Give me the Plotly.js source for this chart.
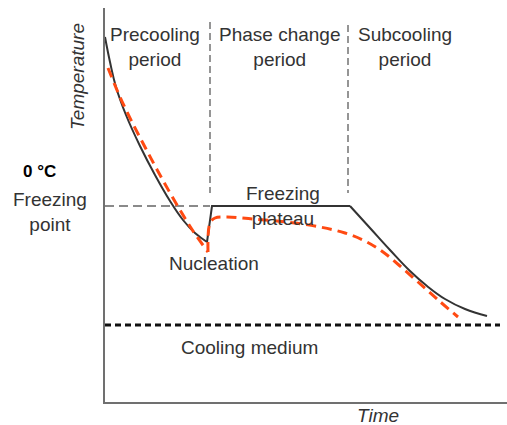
<!DOCTYPE html>
<html>
<head>
<meta charset="utf-8">
<script src="https://cdn.plot.ly/plotly-3.0.1.min.js"></script>
<style>html,body{margin:0;padding:0;background:#fff;}#chart{width:507px;height:425px;}</style>
</head>
<body>
<div id="chart"></div>
<script>
// Schematic freezing curve (time and temperature in arbitrary units)
const blackPreTime  = [0, 5, 11, 21, 35, 50, 65, 78, 90, 102];
const blackPreTemp  = [365, 340, 315, 287, 256, 227, 201, 182, 169, 160];
const blackMidTime  = [102, 107, 245];
const blackMidTemp  = [160, 196, 196];
const blackSubTime  = [245, 265, 285, 305, 322, 340, 360, 382];
const blackSubTemp  = [196, 174, 152, 131, 116, 103, 93, 86];

const redPreTime    = [3, 15, 28, 41, 55, 72, 88, 103];
const redPreTemp    = [334, 305, 278, 253, 227, 197, 171, 150];
const redPostTime   = [103, 105, 110, 122, 148, 182, 215, 240, 260, 278, 295, 313, 332, 353];
const redPostTemp   = [150, 179, 184, 185, 183, 180, 175, 169, 161, 150, 136, 120, 103, 85];

const coolingTime   = [0, 395];
const coolingTemp   = [77, 77];
const freezeTime    = [0, 105];
const freezeTemp    = [196, 196];
const periodBounds  = [105, 243];
const periodTop     = [380, 377];
const periodBottom  = 209;

const traces = [];
traces.push({x: freezeTime, y: freezeTemp, mode: 'lines', line: {color: '#8a8a8a', width: 1.8, dash: '9px,5px'}, hoverinfo: 'skip'});
periodBounds.forEach((b, i) => {
  traces.push({x: [b, b], y: [periodTop[i], periodBottom], mode: 'lines', line: {color: '#8a8a8a', width: 1.8, dash: '7px,4px'}, hoverinfo: 'skip'});
});
traces.push({x: coolingTime, y: coolingTemp, mode: 'lines', line: {color: '#111', width: 3, dash: '6px,4px'}, hoverinfo: 'skip'});
traces.push({x: blackPreTime, y: blackPreTemp, mode: 'lines', line: {color: '#333', width: 2, shape: 'spline', smoothing: 1.2}});
traces.push({x: blackMidTime, y: blackMidTemp, mode: 'lines', line: {color: '#333', width: 2}});
traces.push({x: blackSubTime, y: blackSubTemp, mode: 'lines', line: {color: '#333', width: 2, shape: 'spline', smoothing: 1.2}});
traces.push({x: redPreTime, y: redPreTemp, mode: 'lines', line: {color: '#ff4a12', width: 3, dash: '10px,6px', shape: 'spline', smoothing: 1}});
traces.push({x: redPostTime, y: redPostTemp, mode: 'lines', line: {color: '#ff4a12', width: 3, dash: '10px,6px', shape: 'spline', smoothing: 1}});

const F = 'Liberation Sans, Arial, sans-serif';
const txt = '#333';
function ann(text, x, y, size, extra) {
  return Object.assign({text: text, x: x, y: y, xref: 'x', yref: 'y', showarrow: false, xanchor: 'center', yanchor: 'middle', font: {family: F, size: size, color: txt}}, extra || {});
}
function pann(text, x, y, size, extra) {
  return Object.assign({text: text, x: x, y: y, xref: 'paper', yref: 'paper', showarrow: false, xanchor: 'center', yanchor: 'middle', font: {family: F, size: size, color: txt}}, extra || {});
}
const annotations = [
  ann('Precooling<br>period', 50, 355, 19),
  ann('Phase change<br>period', 175, 355, 19),
  ann('Subcooling<br>period', 300, 355, 19),
  pann('<i>Temperature</i>', -0.067, 0.825, 19, {textangle: -90}),
  pann('<i>Time</i>', 0.679, -0.033, 19),
  pann('<b>0 °C</b>', -0.164, 0.584, 17, {font: {family: F, size: 17, color: '#000'}}),
  pann('Freezing<br>point', -0.137, 0.4835, 19),
  ann('Nucleation', 109, 139, 19),
  ann('Freezing<br>plateau', 178, 196, 19),
  ann('Cooling medium', 144, 55, 19)
];

const layout = {
  width: 507, height: 425,
  margin: {l: 105, r: 0, t: 8, b: 23},
  paper_bgcolor: '#fff', plot_bgcolor: '#fff',
  showlegend: false,
  xaxis: {range: [0, 402], showgrid: false, zeroline: false, showticklabels: false, ticks: '', showline: true, linecolor: '#707070', linewidth: 2},
  yaxis: {range: [0, 394], showgrid: false, zeroline: false, showticklabels: false, ticks: '', showline: true, linecolor: '#707070', linewidth: 2},
  annotations: annotations
};
Plotly.newPlot('chart', traces, layout, {staticPlot: true, displayModeBar: false});
</script>
</body>
</html>
